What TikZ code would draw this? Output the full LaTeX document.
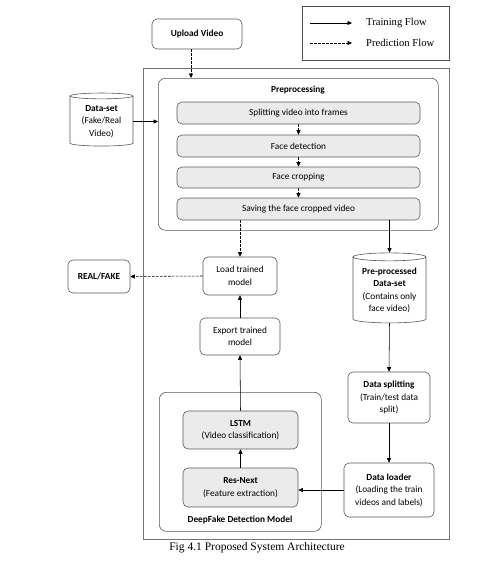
\documentclass[tikz,border=0pt]{standalone}
\usepackage{fontspec}
\setmainfont{Carlito}
\newfontfamily\timesf{Liberation Serif}
\usetikzlibrary{shapes.geometric,arrows.meta,calc}
\begin{document}
\begin{tikzpicture}[x=1pt,y=-1pt,
  txt/.style={font=\fontsize{9.3}{12.5}\selectfont, align=center},
  btxt/.style={font=\bfseries\fontsize{9.3}{12.5}\selectfont},
  box/.style={txt, draw=black!65, rounded corners=5pt, inner sep=1pt, line width=0.6pt, fill=white},
  greybox/.style={box, fill=black!8},
  cyl/.style={txt, draw=black!65, cylinder, shape border rotate=90, aspect=0.14, inner sep=1pt, line width=0.6pt, fill=white},
  arr/.style={-{Triangle[length=4.5pt,width=4pt]}, line width=0.55pt},
  darr/.style={arr, dash pattern=on 2.5pt off 1.5pt},
  legtxt/.style={font=\timesf\fontsize{10.6}{12}\selectfont, anchor=west, inner sep=0pt}
]
\useasboundingbox (0,0) rectangle (497,562);

% outer frame
\node (outer) [draw=black!55, line width=0.6pt, minimum width=306pt, minimum height=471pt, anchor=north west, inner sep=0pt] at (143,68) {};

% legend
\node (legend) [draw=black!70, line width=0.6pt, minimum width=147pt, minimum height=54pt, anchor=north west, inner sep=0pt] at (302,6) {};
\coordinate (tf1) at (310,23); \coordinate (tf2) at (352,23);
\coordinate (pf1) at (310,43); \coordinate (pf2) at (352,43);
\draw[arr] (tf1) -- (tf2);
\draw[darr] (pf1) -- (pf2);
\node (tft) [legtxt] at (366,23) {Training Flow};
\node (pft) [legtxt] at (366,43) {Prediction Flow};

% upload
\node (up) [box, minimum width=90pt, minimum height=30pt, btxt] at (197,34) {Upload Video};

% preprocessing
\node (pre) [draw=black!65, rounded corners=7pt, line width=0.6pt, minimum width=280pt, minimum height=152pt, anchor=north west, inner sep=0pt] at (158,78) {};
\node (pret) [txt, btxt] at (298,90) {Preprocessing};
\node (s1) [greybox, minimum width=243pt, minimum height=22pt] at (298.5,113) {Splitting video into frames};
\node (s2) [greybox, minimum width=243pt, minimum height=22pt] at (298.5,146) {Face detection};
\node (s3) [greybox, minimum width=243pt, minimum height=21pt] at (298.5,177.5) {Face cropping};
\node (s4) [greybox, minimum width=243pt, minimum height=22pt] at (298.5,209) {Saving the face cropped video};
\draw[darr] (s1.south) -- (s2.north);
\draw[darr] (s2.south) -- (s3.north);
\draw[darr] (s3.south) -- (s4.north);

% data-set
\node (ds) [cyl, minimum width=63pt, minimum height=53pt] at (101.5,121.5) {\textbf{Data-set}\\(Fake/Real\\Video)};
\draw[arr] (ds.east) -- (ds.east -| pre.west);
\draw[darr] ($(up.south)+(-6,0)$) -- ($(up.south |- pre.north)+(-6,0)$);

% load / export / real-fake
\node (load) [box, minimum width=74pt, minimum height=38pt] at (240,276) {Load trained\\model};
\node (exp) [box, minimum width=80pt, minimum height=37pt] at (240,336.5) {Export trained\\model};
\node (rf) [box, minimum width=62pt, minimum height=33pt, btxt] at (99,276.5) {REAL/FAKE};
\draw[darr] (load.north |- s4.south) -- (load.north);
\draw[darr] (load.west) -- (rf.east);
\draw[arr] (exp.north) -- (load.south);

% right column
\node (ppds) [cyl, minimum width=73pt, minimum height=70pt] at (389.5,290.5) {\textbf{Pre-processed}\\\textbf{Data-set}\\(Contains only\\face video)};
\draw[arr] (ppds.north |- s4.south) -- (ppds.north);
\node (dsp) [box, minimum width=82pt, minimum height=51pt] at (389,397.5) {\textbf{Data splitting}\\(Train/test data\\split)};
\node (dl) [box, minimum width=90pt, minimum height=54pt] at (389,490) {\textbf{Data loader}\\(Loading the train\\videos and labels)};
\draw[arr] (ppds.south) -- (dsp.north);
\draw[arr] (dsp.south) -- (dl.north);

% model box
\node (dfd) [draw=black!65, rounded corners=7pt, line width=0.6pt, minimum width=162pt, minimum height=139pt, anchor=north west, inner sep=0pt] at (159,392) {};
\node (dfdt) [txt, btxt] at (240,520) {DeepFake Detection Model};
\node (lstm) [greybox, minimum width=115pt, minimum height=38pt] at (240.5,430) {\textbf{LSTM}\\(Video classification)};
\node (res) [greybox, minimum width=115pt, minimum height=39pt] at (240.5,487.5) {\textbf{Res-Next}\\(Feature extraction)};
\draw[arr] (res.north) -- (lstm.south);
\draw[arr] (lstm.north) -- (exp.south);
\draw[arr] (dl.west) -- (dl.west -| res.east);

% caption
\node (cap) [font=\timesf\fontsize{11.5}{13}\selectfont, inner sep=0pt] at (257,548) {Fig 4.1 Proposed System Architecture};
\end{tikzpicture}
\end{document}
